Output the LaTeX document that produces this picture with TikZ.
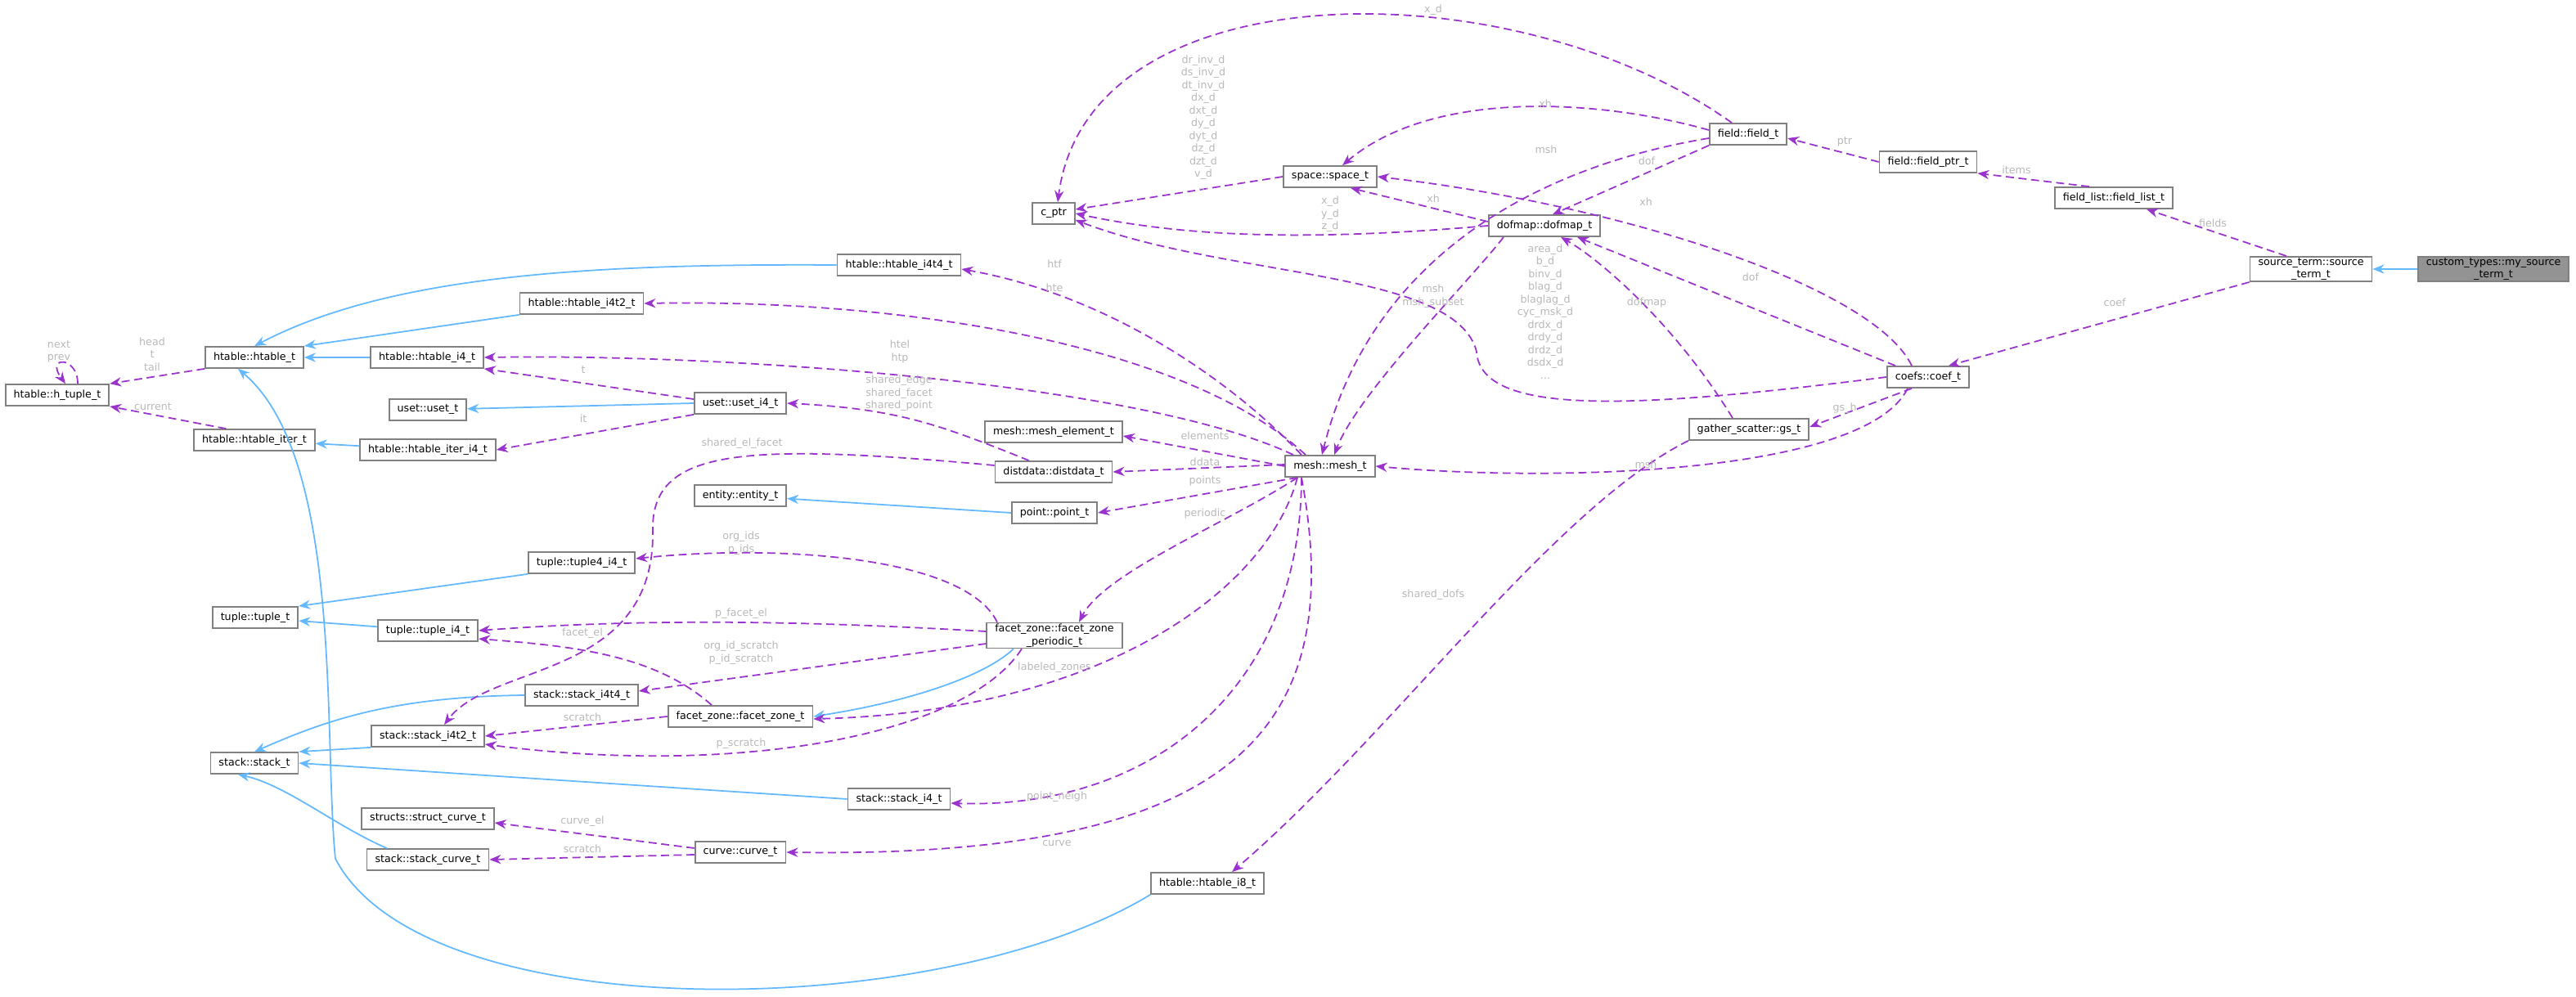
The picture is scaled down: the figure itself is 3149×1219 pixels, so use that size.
\documentclass[tikz,border=0pt]{standalone}
\usepackage{fontspec}
\setmainfont{DejaVu Sans}
\usepackage{tikz}
\usetikzlibrary{arrows.meta}
\definecolor{usecol}{HTML}{9A32CD}
\definecolor{inhcol}{HTML}{63B8FF}
\definecolor{lblcol}{HTML}{B8B8B8}
\definecolor{boxcol}{HTML}{808080}

\begin{document}
\begin{tikzpicture}[x=0.01cm, y=-0.01cm,
  font=\fontsize{3.6}{4.4}\selectfont,
  cls/.style={draw=boxcol, line width=0.5pt, fill=white, inner xsep=0.1cm,
    minimum height=0.26cm, inner ysep=0.4pt, align=center},
  lbl/.style={text=lblcol, align=center, inner sep=0pt, font=\fontsize{3.6}{4.4}\selectfont},
  use/.style={draw=usecol, line width=0.5pt, dash pattern=on 2.8pt off 1.6pt,
    -{Stealth[length=4pt,width=3.2pt]}},
  inh/.style={draw=inhcol, line width=0.5pt, -{Stealth[length=4pt,width=3.2pt]}}]
  \useasboundingbox (0,0) rectangle (3149,1219);

  % classes
  \node[cls, fill=gray!85] (mySrc) at (3048,329) {custom\_types::my\_source\\\_term\_t};
  \node[cls] (srcTerm) at (2825,329) {source\_term::source\\\_term\_t};
  \node[cls] (fieldList) at (2584,242) {field\_list::field\_list\_t};
  \node[cls] (fieldPtr) at (2357,198) {field::field\_ptr\_t};
  \node[cls] (fieldT) at (2137,164) {field::field\_t};
  \node[cls] (coefT) at (2357,461) {coefs::coef\_t};
  \node[cls] (gsT) at (2138,525) {gather\_scatter::gs\_t};
  \node[cls] (spaceT) at (1626,216) {space::space\_t};
  \node[cls] (cPtr) at (1288,261) {c\_ptr};
  \node[cls] (dofmapT) at (1888,276) {dofmap::dofmap\_t};
  \node[cls] (meshT) at (1626,570) {mesh::mesh\_t};
  \node[cls] (meshElem) at (1288,528) {mesh::mesh\_element\_t};
  \node[cls] (distData) at (1288,577) {distdata::distdata\_t};
  \node[cls] (pointT) at (1289,627) {point::point\_t};
  \node[cls] (fzPer) at (1289,777) {facet\_zone::facet\_zone\\\_periodic\_t};
  \node[cls] (fzT) at (905,876) {facet\_zone::facet\_zone\_t};
  \node[cls] (htI4t4) at (1099,324) {htable::htable\_i4t4\_t};
  \node[cls] (htI4t2) at (711,371) {htable::htable\_i4t2\_t};
  \node[cls] (htI4) at (522,437) {htable::htable\_i4\_t};
  \node[cls] (htT) at (311,437) {htable::htable\_t};
  \node[cls] (hTuple) at (70,483) {htable::h\_tuple\_t};
  \node[cls] (usetT) at (523,501) {uset::uset\_t};
  \node[cls] (usetI4) at (905,493) {uset::uset\_i4\_t};
  \node[cls] (htIter) at (311,538) {htable::htable\_iter\_t};
  \node[cls] (htIterI4) at (523,550) {htable::htable\_iter\_i4\_t};
  \node[cls] (entityT) at (905,606) {entity::entity\_t};
  \node[cls] (tuple4I4) at (711,688) {tuple::tuple4\_i4\_t};
  \node[cls] (tupleT) at (312,755) {tuple::tuple\_t};
  \node[cls] (tupleI4) at (523,771) {tuple::tuple\_i4\_t};
  \node[cls] (stI4t4) at (711,850) {stack::stack\_i4t4\_t};
  \node[cls] (stI4t2) at (523,900) {stack::stack\_i4t2\_t};
  \node[cls] (stackT) at (311,933) {stack::stack\_t};
  \node[cls] (stI4) at (1099,977) {stack::stack\_i4\_t};
  \node[cls] (structCurve) at (523,1001) {structs::struct\_curve\_t};
  \node[cls] (curveT) at (905,1042) {curve::curve\_t};
  \node[cls] (stCurve) at (523,1051) {stack::stack\_curve\_t};
  \node[cls] (htI8) at (1476,1080) {htable::htable\_i8\_t};

  % inheritance
  \draw[inh] (mySrc) -- (srcTerm);
  \draw[inh] (htI4t4.west) .. controls (700,322) and (470,340) .. (htT.north);
  \draw[inh] (htI4t2.south west) -- (htT.north east);
  \draw[inh] (htI4) -- (htT);
  \draw[inh] (htI8.south west) .. controls (1150,1250) and (520,1260) .. (410,1050)
    .. controls (395,900) and (420,560) .. ([xshift=-0.2cm]htT.south);
  \draw[inh] (usetI4.west) -- (usetT);
  \draw[inh] (htIterI4) -- (htIter);
  \draw[inh] (pointT.west) -- (entityT);
  \draw[inh] (tuple4I4.south west) -- (tupleT.north east);
  \draw[inh] (tupleI4) -- (tupleT);
  \draw[inh] (stI4t4.west) .. controls (480,852) and (400,880) .. (stackT.north);
  \draw[inh] (stI4t2.south west) -- (stackT.north east);
  \draw[inh] (stI4.west) -- (stackT.east);
  \draw[inh] ([xshift=-0.5cm]stCurve.north) .. controls (410,1010) and (350,960) .. ([xshift=-0.2cm]stackT.south);
  \draw[inh] ([xshift=-0.5cm]fzPer.south) .. controls (1200,830) and (1100,860) .. (fzT.east);

  % members
  \draw[use] ([xshift=-0.2cm]fieldT.north) .. controls (1850,-40) and (1330,-40) .. ([xshift=0.05cm]cPtr.north);
  \draw[use] ([yshift=0.05cm]fieldT.west) .. controls (1950,120) and (1750,110) .. ([xshift=0.15cm]spaceT.north);
  \draw[use] ([yshift=-0.05cm]fieldT.west) .. controls (1900,200) and (1680,300) .. ([xshift=-0.1cm]meshT.north);
  \draw[use] (fieldT.south west) -- ([xshift=0.1cm]dofmapT.north);
  \draw[use] (spaceT.west) -- ([yshift=0.05cm]cPtr.east);
  \draw[use] (dofmapT.west) .. controls (1600,295) and (1450,290) .. (cPtr.east);
  \draw[use] ([yshift=0.05cm]dofmapT.west) -- ([xshift=0.25cm]spaceT.south);
  \draw[use] ([xshift=-0.5cm]dofmapT.south) .. controls (1800,340) and (1660,480) .. ([xshift=0.05cm]meshT.north);
  \draw[use] ([xshift=-0.2cm]coefT.north) .. controls (2290,350) and (1980,250) .. (spaceT.east);
  \draw[use] ([xshift=-0.4cm]coefT.north) -- ([xshift=0.4cm]dofmapT.south);
  \draw[use] (coefT.west) .. controls (2000,500) and (1810,510) .. (1805,430)
    .. controls (1780,330) and (1500,340) .. ([yshift=-0.08cm]cPtr.east);
  \draw[use] ([xshift=-0.2cm]gsT.north) .. controls (2050,400) and (1960,320) .. ([xshift=0.2cm]dofmapT.south);
  \draw[use] ([xshift=-0.2cm]coefT.south) -- ([yshift=0.03cm]gsT.east);
  \draw[use] ([xshift=-0.25cm]coefT.south) .. controls (2280,580) and (1900,590) .. (meshT.east);
  \draw[use] ([xshift=-0.3cm]srcTerm.north) -- ([xshift=0.4cm]fieldList.south);
  \draw[use] (srcTerm.south west) -- ([xshift=0.25cm]coefT.north);
  \draw[use] ([xshift=-0.3cm]fieldList.north) -- (fieldPtr.south east);
  \draw[use] (fieldPtr.west) -- ([yshift=-0.05cm]fieldT.east);
  \draw[use] ([xshift=-0.35cm]meshT.north) .. controls (1500,460) and (1350,360) .. ([yshift=-0.05cm]htI4t4.east);
  \draw[use] ([xshift=-0.3cm]meshT.north) .. controls (1450,420) and (1100,365) .. (htI4t2.east);
  \draw[use] ([xshift=-0.45cm]meshT.north) .. controls (1400,470) and (900,432) .. (htI4.east);
  \draw[use] (meshT.west) -- ([yshift=-0.05cm]meshElem.east);
  \draw[use] ([yshift=0.02cm]meshT.west) -- (distData.east);
  \draw[use] ([xshift=-0.4cm]meshT.south) -- (pointT.east);
  \draw[use] ([xshift=-0.4cm]meshT.south) .. controls (1500,640) and (1350,700) .. ([xshift=0.3cm]fzPer.north);
  \draw[use] ([xshift=-0.4cm]meshT.south) .. controls (1550,720) and (1350,870) .. ([yshift=-0.03cm]fzT.east);
  \draw[use] ([xshift=-0.35cm]meshT.south) .. controls (1590,850) and (1400,990) .. ([yshift=-0.05cm]stI4.east);
  \draw[use] ([xshift=-0.35cm]meshT.south) .. controls (1650,900) and (1500,1050) .. (curveT.east);
  \draw[use] ([xshift=-0.3cm]distData.north) .. controls (1150,520) and (1100,500) .. (usetI4.east);
  \draw[use] ([yshift=0.08cm]distData.west) .. controls (900,540) and (795,550) .. (798,650)
    .. controls (800,830) and (600,810) .. ([xshift=0.2cm]stI4t2.north);
  \draw[use] ([yshift=0.05cm]usetI4.west) -- (htI4.south east);
  \draw[use] (usetI4.south west) -- (htIterI4.east);
  \draw[use] (htT.south west) -- (hTuple.north east);
  \draw[use] ([xshift=0.4cm]htIter.north west) -- (hTuple.south east);
  \draw[use] ([xshift=0.25cm]hTuple.north) .. controls (95,435) and (55,435) .. ([xshift=0.1cm]hTuple.north);
  \draw[use] ([xshift=-0.7cm]fzPer.north) .. controls (1180,680) and (950,665) .. ([yshift=0.05cm]tuple4I4.east);
  \draw[use] ([yshift=0.05cm]fzPer.west) .. controls (1000,760) and (800,755) .. (tupleI4.east);
  \draw[use] ([yshift=-0.1cm]fzPer.west) -- ([yshift=0.05cm]stI4t4.east);
  \draw[use] ([xshift=-0.4cm]fzPer.south) .. controls (1180,900) and (900,950) .. ([yshift=-0.1cm]stI4t2.east);
  \draw[use] ([xshift=-0.35cm]fzT.north) .. controls (800,800) and (700,790) .. ([yshift=-0.1cm]tupleI4.east);
  \draw[use] (fzT.west) -- (stI4t2.east);
  \draw[use] ([yshift=0.05cm]curveT.west) -- ([yshift=-0.05cm]structCurve.east);
  \draw[use] ([yshift=-0.03cm]curveT.west) -- (stCurve.east);
  \draw[use] (gsT.south west) .. controls (1900,620) and (1700,900) .. ([xshift=0.3cm]htI8.north);

  % member labels
  \node[lbl] (lXd) at (1752,12) {x\_d};
  \node[lbl] (lSpace) at (1471,150) {dr\_inv\_d\\ds\_inv\_d\\dt\_inv\_d\\dx\_d\\dxt\_d\\dy\_d\\dyt\_d\\dz\_d\\dzt\_d\\v\_d\\...};
  \node[lbl] (lXhA) at (1889,127) {xh};
  \node[lbl] (lMshA) at (1890,183) {msh};
  \node[lbl] (lDofA) at (2013,197) {dof};
  \node[lbl] (lXhB) at (1752,243) {xh};
  \node[lbl] (lXyz) at (1626,262) {x\_d\\y\_d\\z\_d};
  \node[lbl] (lXhC) at (2012,247) {xh};
  \node[lbl] (lHtf) at (1289,323) {htf};
  \node[lbl] (lMsh) at (1752,362) {msh\\msh\_subset};
  \node[lbl] (lCoef) at (1889,381) {area\_d\\b\_d\\binv\_d\\blag\_d\\blaglag\_d\\cyc\_msk\_d\\drdx\_d\\drdy\_d\\drdz\_d\\dsdx\_d\\...};
  \node[lbl] (lDofmap) at (2013,370) {dofmap};
  \node[lbl] (lDofB) at (2140,339) {dof};
  \node[lbl] (lPtr) at (2255,173) {ptr};
  \node[lbl] (lItems) at (2465,208) {items};
  \node[lbl] (lFields) at (2705,273) {fields};
  \node[lbl] (lCoefB) at (2585,370) {coef};
  \node[lbl] (lGsh) at (2255,499) {gs\_h};
  \node[lbl] (lMshB) at (2012,568) {msh};
  \node[lbl] (lShDofs) at (1752,727) {shared\_dofs};
  \node[lbl] (lHte) at (1289,352) {hte};
  \node[lbl] (lHtel) at (1100,430) {htel\\htp};
  \node[lbl] (lShared) at (1099,481) {shared\_edge\\shared\_facet\\shared\_point};
  \node[lbl] (lElem) at (1473,533) {elements};
  \node[lbl] (lDdata) at (1473,565) {ddata};
  \node[lbl] (lPoints) at (1473,588) {points};
  \node[lbl] (lPeriodic) at (1473,628) {periodic};
  \node[lbl] (lLabeled) at (1289,816) {labeled\_zones};
  \node[lbl] (lPneigh) at (1292,974) {point\_neigh};
  \node[lbl] (lCurve) at (1292,1031) {curve};
  \node[lbl] (lSharedEl) at (907,542) {shared\_el\_facet};
  \node[lbl] (lT) at (713,452) {t};
  \node[lbl] (lIt) at (713,512) {it};
  \node[lbl] (lHead) at (186,433) {head\\t\\tail};
  \node[lbl] (lCurrent) at (187,497) {current};
  \node[lbl] (lNext) at (72,430) {next\\prev};
  \node[lbl] (lOrg) at (906,664) {org\_ids\\p\_ids};
  \node[lbl] (lPfacet) at (906,750) {p\_facet\_el};
  \node[lbl] (lFacet) at (712,774) {facet\_el};
  \node[lbl] (lOrgScr) at (906,798) {org\_id\_scratch\\p\_id\_scratch};
  \node[lbl] (lScrA) at (712,877) {scratch};
  \node[lbl] (lPscr) at (906,909) {p\_scratch};
  \node[lbl] (lCurveEl) at (712,1004) {curve\_el};
  \node[lbl] (lScrB) at (712,1038) {scratch};
\end{tikzpicture}
\end{document}
